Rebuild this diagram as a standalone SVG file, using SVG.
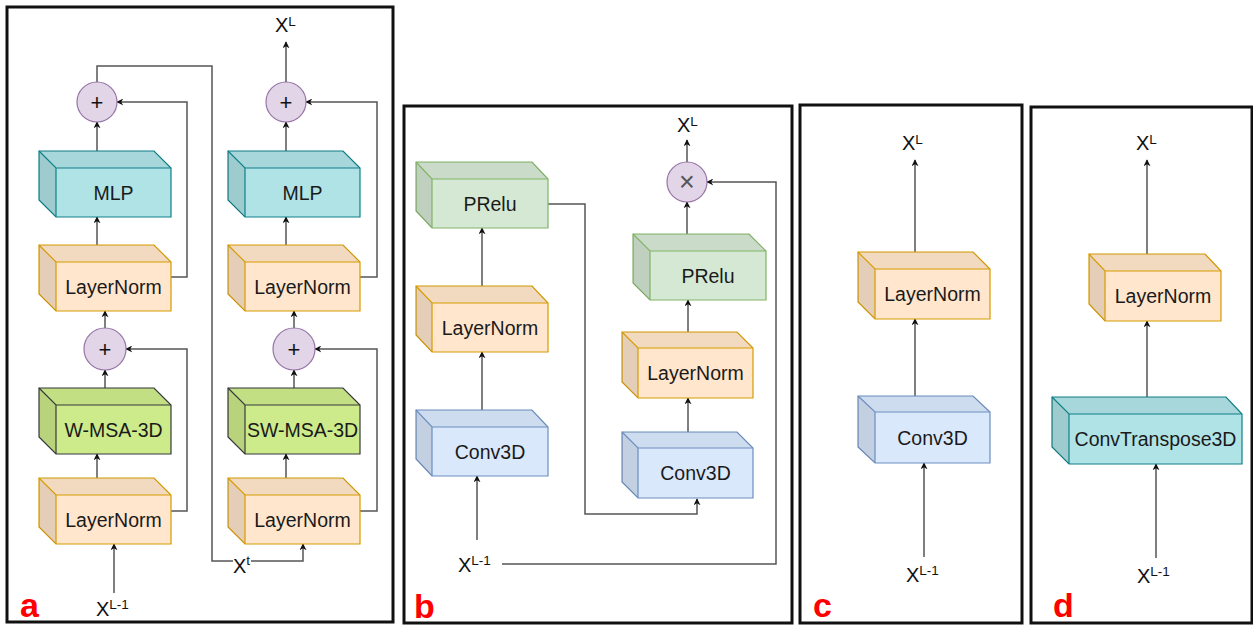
<svg xmlns="http://www.w3.org/2000/svg" width="1253" height="625" viewBox="0 0 1253 625">
  <style>
    .frame { fill: none; stroke: #111; stroke-width: 3; }
    .edge { fill: none; stroke: #555; stroke-width: 1.5; }
    .lbl { font-family: "Liberation Sans", Arial, sans-serif; font-size: 19.5px; fill: #1a1a1a; text-anchor: middle; dominant-baseline: central; }
    .sym { font-family: "Liberation Sans", Arial, sans-serif; font-size: 20px; fill: #111; }
    .sup { font-size: 13.5px; }
    .tag { font-family: "Liberation Sans", Arial, sans-serif; font-size: 34px; font-weight: bold; fill: #ff0000; }
    .op { fill: #e1d5e7; stroke: #9673a6; stroke-width: 1.2; }
    .optxt { font-family: "Liberation Sans", Arial, sans-serif; font-size: 22px; fill: #111; text-anchor: middle; dominant-baseline: central; }
    .mul { font-size: 27px; fill: #555; }
    .top { fill: #000; fill-opacity: 0.05; }
    .side { fill: #000; fill-opacity: 0.1; }
    .ln { fill: #ffe6cc; stroke: #d79b00; stroke-width: 1.2; }
    .mlp { fill: #b0e3e6; stroke: #0e8088; stroke-width: 1.2; }
    .msa { fill: #cdeb8b; stroke: #36393d; stroke-width: 1.2; }
    .prelu { fill: #d5e8d4; stroke: #82b366; stroke-width: 1.2; }
    .conv { fill: #dae8fc; stroke: #6c8ebf; stroke-width: 1.2; }
    .inner { fill: none; stroke-width: 1.2; }
  </style>
  <defs>
    <marker id="arrow" viewBox="0 0 10 10" refX="9" refY="5" markerWidth="7" markerHeight="7" markerUnits="userSpaceOnUse" orient="auto">
      <path d="M0,0 L10,5 L0,10 L3,5 Z" fill="#111"/>
    </marker>
  </defs>

  <!-- panel frames -->
  <rect class="frame" x="7" y="7" width="386" height="615"/>
  <rect class="frame" x="404" y="106" width="388" height="517"/>
  <rect class="frame" x="800" y="105" width="222" height="518"/>
  <rect class="frame" x="1031" y="107" width="221" height="516"/>

  <!-- connectors -->
  <g id="connectors">
    <!-- panel a, left column -->
    <path class="edge" d="M97,246 V217" marker-end="url(#arrow)"/>
    <path class="edge" d="M97,151 V122" marker-end="url(#arrow)"/>
    <path class="edge" d="M171,277 H187 V102 H117" marker-end="url(#arrow)"/>
    <path class="edge" d="M97,82 V66 H212 V561 H233"/>
    <path class="edge" d="M251,561 H303 V544" marker-end="url(#arrow)"/>
    <path class="edge" d="M105,389 V370" marker-end="url(#arrow)"/>
    <path class="edge" d="M105,328 V311" marker-end="url(#arrow)"/>
    <path class="edge" d="M97,478 V454" marker-end="url(#arrow)"/>
    <path class="edge" d="M171,511 H187 V349 H126" marker-end="url(#arrow)"/>
    <path class="edge" d="M114,593 V544" marker-end="url(#arrow)"/>
    <!-- panel a, right column -->
    <path class="edge" d="M286,246 V217" marker-end="url(#arrow)"/>
    <path class="edge" d="M286,151 V122" marker-end="url(#arrow)"/>
    <path class="edge" d="M286,82 V42" marker-end="url(#arrow)"/>
    <path class="edge" d="M360,277 H377 V102 H306" marker-end="url(#arrow)"/>
    <path class="edge" d="M294,389 V370" marker-end="url(#arrow)"/>
    <path class="edge" d="M294,328 V311" marker-end="url(#arrow)"/>
    <path class="edge" d="M286,478 V454" marker-end="url(#arrow)"/>
    <path class="edge" d="M360,511 H377 V349 H315" marker-end="url(#arrow)"/>
    <!-- panel b -->
    <path class="edge" d="M482,410 V352" marker-end="url(#arrow)"/>
    <path class="edge" d="M482,287 V228" marker-end="url(#arrow)"/>
    <path class="edge" d="M477,540 V476" marker-end="url(#arrow)"/>
    <path class="edge" d="M548,204 H585 V514 H697 V499" marker-end="url(#arrow)"/>
    <path class="edge" d="M502,564 H776 V182 H707" marker-end="url(#arrow)"/>
    <path class="edge" d="M688,432 V398" marker-end="url(#arrow)"/>
    <path class="edge" d="M688,332 V300" marker-end="url(#arrow)"/>
    <path class="edge" d="M687,234 V202" marker-end="url(#arrow)"/>
    <path class="edge" d="M687,162 V140" marker-end="url(#arrow)"/>
    <!-- panel c -->
    <path class="edge" d="M924,557 V463" marker-end="url(#arrow)"/>
    <path class="edge" d="M915,396 V319" marker-end="url(#arrow)"/>
    <path class="edge" d="M915,252 V160" marker-end="url(#arrow)"/>
    <!-- panel d -->
    <path class="edge" d="M1156,558 V464" marker-end="url(#arrow)"/>
    <path class="edge" d="M1147,397 V321" marker-end="url(#arrow)"/>
    <path class="edge" d="M1147,254 V160" marker-end="url(#arrow)"/>
  </g>

  <!-- panel a blocks (front face x,y,w,h; depth 17) -->
  <g id="a-mlp1">
    <path class="mlp" d="M39,151 H154 L171,168 V217 H56 L39,200 Z"/>
    <path class="top" d="M39,151 H154 L171,168 H56 Z"/>
    <path class="side" d="M39,151 L56,168 V217 L39,200 Z"/>
    <path class="inner" stroke="#0e8088" d="M39,151 L56,168 H171 M56,168 V217"/>
    <text class="lbl" x="113.5" y="192.5">MLP</text>
  </g>
  <g id="a-norm1">
    <path class="ln" d="M39,245 H154 L171,262 V311 H56 L39,294 Z"/>
    <path class="top" d="M39,245 H154 L171,262 H56 Z"/>
    <path class="side" d="M39,245 L56,262 V311 L39,294 Z"/>
    <path class="inner" stroke="#d79b00" d="M39,245 L56,262 H171 M56,262 V311"/>
    <text class="lbl" x="113.5" y="286.5">LayerNorm</text>
  </g>
  <g id="a-wmsa">
    <path class="msa" d="M39,388 H154 L171,405 V454 H56 L39,437 Z"/>
    <path class="top" d="M39,388 H154 L171,405 H56 Z"/>
    <path class="side" d="M39,388 L56,405 V454 L39,437 Z"/>
    <path class="inner" stroke="#36393d" d="M39,388 L56,405 H171 M56,405 V454"/>
    <text class="lbl" x="113.5" y="429.5">W-MSA-3D</text>
  </g>
  <g id="a-norm2">
    <path class="ln" d="M39,478 H154 L171,495 V544 H56 L39,527 Z"/>
    <path class="top" d="M39,478 H154 L171,495 H56 Z"/>
    <path class="side" d="M39,478 L56,495 V544 L39,527 Z"/>
    <path class="inner" stroke="#d79b00" d="M39,478 L56,495 H171 M56,495 V544"/>
    <text class="lbl" x="113.5" y="519.5">LayerNorm</text>
  </g>
  <g id="a-mlp2">
    <path class="mlp" d="M228,151 H343 L360,168 V217 H245 L228,200 Z"/>
    <path class="top" d="M228,151 H343 L360,168 H245 Z"/>
    <path class="side" d="M228,151 L245,168 V217 L228,200 Z"/>
    <path class="inner" stroke="#0e8088" d="M228,151 L245,168 H360 M245,168 V217"/>
    <text class="lbl" x="302.5" y="192.5">MLP</text>
  </g>
  <g id="a-norm3">
    <path class="ln" d="M228,245 H343 L360,262 V311 H245 L228,294 Z"/>
    <path class="top" d="M228,245 H343 L360,262 H245 Z"/>
    <path class="side" d="M228,245 L245,262 V311 L228,294 Z"/>
    <path class="inner" stroke="#d79b00" d="M228,245 L245,262 H360 M245,262 V311"/>
    <text class="lbl" x="302.5" y="286.5">LayerNorm</text>
  </g>
  <g id="a-swmsa">
    <path class="msa" d="M228,388 H343 L360,405 V454 H245 L228,437 Z"/>
    <path class="top" d="M228,388 H343 L360,405 H245 Z"/>
    <path class="side" d="M228,388 L245,405 V454 L228,437 Z"/>
    <path class="inner" stroke="#36393d" d="M228,388 L245,405 H360 M245,405 V454"/>
    <text class="lbl" x="302.5" y="429.5">SW-MSA-3D</text>
  </g>
  <g id="a-norm4">
    <path class="ln" d="M228,478 H343 L360,495 V544 H245 L228,527 Z"/>
    <path class="top" d="M228,478 H343 L360,495 H245 Z"/>
    <path class="side" d="M228,478 L245,495 V544 L228,527 Z"/>
    <path class="inner" stroke="#d79b00" d="M228,478 L245,495 H360 M245,495 V544"/>
    <text class="lbl" x="302.5" y="519.5">LayerNorm</text>
  </g>
  <g id="a-add1"><circle class="op" cx="97" cy="102" r="20"/><text class="optxt" x="97" y="102">+</text></g>
  <g id="a-add2"><circle class="op" cx="286" cy="102" r="20"/><text class="optxt" x="286" y="102">+</text></g>
  <g id="a-add3"><circle class="op" cx="105" cy="349" r="21"/><text class="optxt" x="105" y="349">+</text></g>
  <g id="a-add4"><circle class="op" cx="294" cy="349" r="21"/><text class="optxt" x="294" y="349">+</text></g>

  <!-- panel b blocks -->
  <g id="b-prelu1">
    <path class="prelu" d="M416,162 H532 L548,179 V228 H432 L416,211 Z"/>
    <path class="top" d="M416,162 H532 L548,179 H432 Z"/>
    <path class="side" d="M416,162 L432,179 V228 L416,211 Z"/>
    <path class="inner" stroke="#82b366" d="M416,162 L432,179 H548 M432,179 V228"/>
    <text class="lbl" x="490" y="203.5">PRelu</text>
  </g>
  <g id="b-norm1">
    <path class="ln" d="M416,286 H532 L548,303 V352 H432 L416,335 Z"/>
    <path class="top" d="M416,286 H532 L548,303 H432 Z"/>
    <path class="side" d="M416,286 L432,303 V352 L416,335 Z"/>
    <path class="inner" stroke="#d79b00" d="M416,286 L432,303 H548 M432,303 V352"/>
    <text class="lbl" x="490" y="327.5">LayerNorm</text>
  </g>
  <g id="b-conv1">
    <path class="conv" d="M416,410 H532 L548,427 V476 H432 L416,459 Z"/>
    <path class="top" d="M416,410 H532 L548,427 H432 Z"/>
    <path class="side" d="M416,410 L432,427 V476 L416,459 Z"/>
    <path class="inner" stroke="#6c8ebf" d="M416,410 L432,427 H548 M432,427 V476"/>
    <text class="lbl" x="490" y="451.5">Conv3D</text>
  </g>
  <g id="b-prelu2">
    <path class="prelu" d="M633,234 H749 L766,251 V300 H650 L633,283 Z"/>
    <path class="top" d="M633,234 H749 L766,251 H650 Z"/>
    <path class="side" d="M633,234 L650,251 V300 L633,283 Z"/>
    <path class="inner" stroke="#82b366" d="M633,234 L650,251 H766 M650,251 V300"/>
    <text class="lbl" x="708" y="275.5">PRelu</text>
  </g>
  <g id="b-norm2">
    <path class="ln" d="M622,332 H737 L753,348 V398 H638 L622,382 Z"/>
    <path class="top" d="M622,332 H737 L753,348 H638 Z"/>
    <path class="side" d="M622,332 L638,348 V398 L622,382 Z"/>
    <path class="inner" stroke="#d79b00" d="M622,332 L638,348 H753 M638,348 V398"/>
    <text class="lbl" x="695.5" y="373">LayerNorm</text>
  </g>
  <g id="b-conv2">
    <path class="conv" d="M622,432 H737 L753,448 V498 H638 L622,482 Z"/>
    <path class="top" d="M622,432 H737 L753,448 H638 Z"/>
    <path class="side" d="M622,432 L638,448 V498 L622,482 Z"/>
    <path class="inner" stroke="#6c8ebf" d="M622,432 L638,448 H753 M638,448 V498"/>
    <text class="lbl" x="695.5" y="473">Conv3D</text>
  </g>
  <g id="b-mul"><circle class="op" cx="687" cy="182" r="20"/><text class="optxt mul" x="687" y="182">×</text></g>

  <!-- panel c blocks -->
  <g id="c-norm">
    <path class="ln" d="M858,252 H973 L990,269 V319 H875 L858,302 Z"/>
    <path class="top" d="M858,252 H973 L990,269 H875 Z"/>
    <path class="side" d="M858,252 L875,269 V319 L858,302 Z"/>
    <path class="inner" stroke="#d79b00" d="M858,252 L875,269 H990 M875,269 V319"/>
    <text class="lbl" x="932.5" y="294">LayerNorm</text>
  </g>
  <g id="c-conv">
    <path class="conv" d="M858,396 H973 L990,412 V463 H875 L858,447 Z"/>
    <path class="top" d="M858,396 H973 L990,412 H875 Z"/>
    <path class="side" d="M858,396 L875,412 V463 L858,447 Z"/>
    <path class="inner" stroke="#6c8ebf" d="M858,396 L875,412 H990 M875,412 V463"/>
    <text class="lbl" x="932.5" y="437.5">Conv3D</text>
  </g>

  <!-- panel d blocks -->
  <g id="d-norm">
    <path class="ln" d="M1089,254 H1205 L1221,271 V321 H1105 L1089,304 Z"/>
    <path class="top" d="M1089,254 H1205 L1221,271 H1105 Z"/>
    <path class="side" d="M1089,254 L1105,271 V321 L1089,304 Z"/>
    <path class="inner" stroke="#d79b00" d="M1089,254 L1105,271 H1221 M1105,271 V321"/>
    <text class="lbl" x="1163" y="296">LayerNorm</text>
  </g>
  <g id="d-convt">
    <path class="mlp" d="M1052,397 H1226 L1242,414 V464 H1069 L1052,447 Z"/>
    <path class="top" d="M1052,397 H1226 L1242,414 H1069 Z"/>
    <path class="side" d="M1052,397 L1069,414 V464 L1052,447 Z"/>
    <path class="inner" stroke="#0e8088" d="M1052,397 L1069,414 H1242 M1069,414 V464"/>
    <text class="lbl" x="1155.5" y="439">ConvTranspose3D</text>
  </g>

  <!-- tensor labels -->
  <g id="labels">
    <text class="sym" x="275" y="32">X<tspan class="sup" dy="-6">L</tspan></text>
    <text class="sym" x="96" y="616">X<tspan class="sup" dy="-7">L-1</tspan></text>
    <text class="sym" x="233" y="573">X<tspan class="sup" dy="-8">t</tspan></text>
    <text class="sym" x="677" y="132">X<tspan class="sup" dy="-6">L</tspan></text>
    <text class="sym" x="458" y="572">X<tspan class="sup" dy="-7">L-1</tspan></text>
    <text class="sym" x="902" y="150">X<tspan class="sup" dy="-6">L</tspan></text>
    <text class="sym" x="906" y="582">X<tspan class="sup" dy="-7">L-1</tspan></text>
    <text class="sym" x="1136" y="150">X<tspan class="sup" dy="-6">L</tspan></text>
    <text class="sym" x="1137" y="583">X<tspan class="sup" dy="-7">L-1</tspan></text>
  </g>

  <!-- panel letters -->
  <text class="tag" x="20" y="617">a</text>
  <text class="tag" x="414" y="618">b</text>
  <text class="tag" x="813" y="617">c</text>
  <text class="tag" x="1053" y="617">d</text>
</svg>
